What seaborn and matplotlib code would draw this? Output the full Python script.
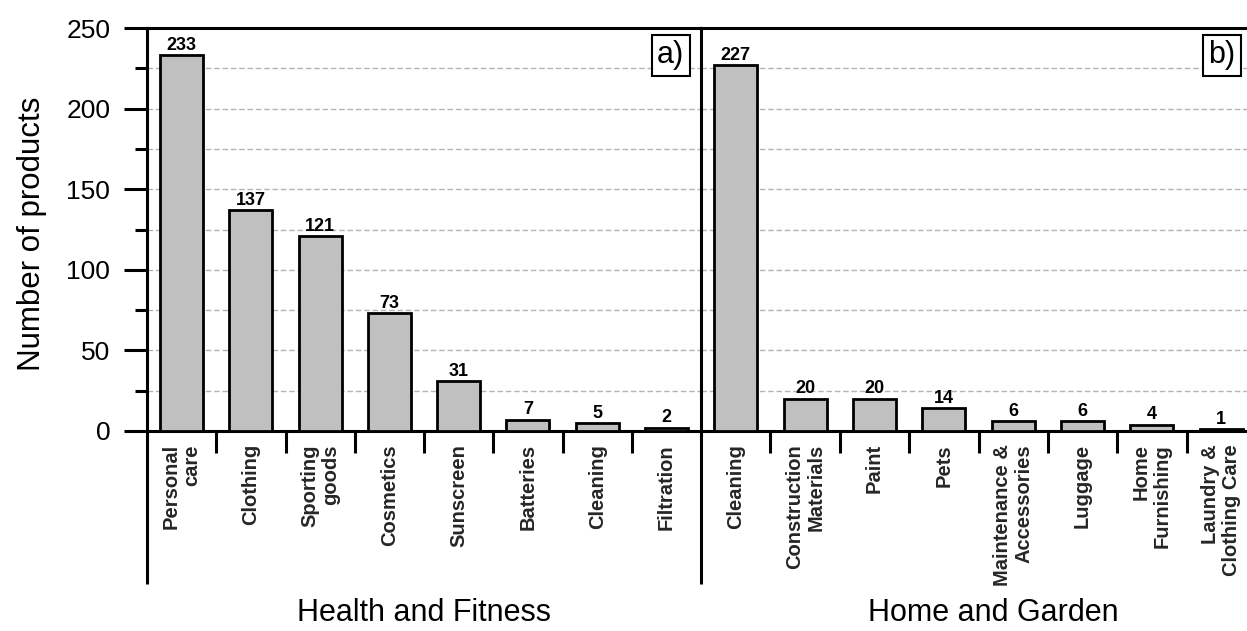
import numpy as np
import pandas as pd
import matplotlib
matplotlib.use("Agg")
import matplotlib.pyplot as plt
from matplotlib.ticker import MultipleLocator, FixedLocator
from matplotlib.lines import Line2D
import seaborn as sns

# Product counts by category
health_categories = ["Personal\ncare", "Clothing", "Sporting\ngoods", "Cosmetics",
                     "Sunscreen", "Batteries", "Cleaning", "Filtration"]
health_counts = [233, 137, 121, 73, 31, 7, 5, 2]

home_categories = ["Cleaning", "Construction\nMaterials", "Paint", "Pets",
                   "Maintenance &\nAccessories", "Luggage", "Home\nFurnishing",
                   "Laundry &\nClothing Care"]
home_counts = [227, 20, 20, 14, 6, 6, 4, 1]

group_titles = ["Health and Fitness", "Home and Garden"]
panel_tags = ["a)", "b)"]

sns.set_style("white")
plt.rcParams["font.family"] = ["Liberation Sans", "DejaVu Sans"]
plt.rcParams["text.color"] = "black"

W, H = 1247, 631
fig = plt.figure(figsize=(W / 100, H / 100), dpi=100)

def px_axes(x0, x1, y0, y1):
    return [x0 / W, 1 - y1 / H, (x1 - x0) / W, (y1 - y0) / H]

ax_l = fig.add_axes(px_axes(147, 701, 28, 431))
ax_r = fig.add_axes(px_axes(701, 1256, 28, 431), sharey=ax_l)

LW = 2.2
panels = [
    (ax_l, health_categories, health_counts, group_titles[0], panel_tags[0], 0.5, 0.970),
    (ax_r, home_categories, home_counts, group_titles[1], panel_tags[1], 0.526, 0.963),
]

for i, (ax, cats, vals, title, tag, tx, tagx) in enumerate(panels):
    df = pd.DataFrame({"category": cats, "count": vals})
    sns.barplot(data=df, x="category", y="count", ax=ax, color="#c0c0c0",
                saturation=1, edgecolor="black", linewidth=2.0, width=0.62, zorder=3)
    ax.bar_label(ax.containers[0], fmt="%d", padding=1, fontsize=13,
                 fontweight="bold")
    ax.set_xlim(-0.5, len(cats) - 0.5)
    ax.set_ylim(0, 250)
    ax.set_xlabel("")
    ax.set_ylabel("")
    ax.set_axisbelow(True)

    # category labels at bar centres, separator ticks at the boundaries
    ax.set_xticks(range(len(cats)))
    ax.set_xticklabels(cats, rotation=90, fontsize=14.5, fontweight="bold",
                       multialignment="right", linespacing=1.15)
    ax.xaxis.set_minor_locator(FixedLocator(np.arange(0.5, len(cats) - 0.5, 1)))
    ax.tick_params(axis="x", which="major", bottom=True, length=0, pad=9.5)
    ax.tick_params(axis="x", which="minor", bottom=True, length=16, width=LW,
                   direction="out", color="black")

    ax.yaxis.set_major_locator(MultipleLocator(50))
    ax.yaxis.set_minor_locator(MultipleLocator(25))
    ax.grid(axis="y", which="both", linestyle=(0, (4, 2)), color="#b4b4b4", linewidth=1)
    ax.grid(axis="x", visible=False)

    for side in ["left", "right", "top", "bottom"]:
        ax.spines[side].set_linewidth(LW)
        ax.spines[side].set_color("black")
    ax.spines["right"].set_visible(False)

    # vertical rule continuing below the axis down past the labels
    ax.add_line(Line2D([0, 0], [0, -0.3797], transform=ax.transAxes, color="black",
                       linewidth=LW, clip_on=False, solid_capstyle="butt"))

    ax.text(tx, -0.452, title, transform=ax.transAxes, ha="center", va="center",
            fontsize=22, clip_on=False)
    ax.text(tagx, 0.969, tag, transform=ax.transAxes, ha="right", va="top",
            fontsize=22, zorder=5,
            bbox=dict(boxstyle="square,pad=0.18", facecolor="white",
                      edgecolor="black", linewidth=1.5))

ax_l.tick_params(axis="y", which="major", left=True, length=16.5, width=LW,
                 direction="out", labelsize=19, pad=10, colors="black")
ax_l.tick_params(axis="y", which="minor", left=True, length=8.6, width=LW,
                 direction="out", color="black")
ax_r.tick_params(axis="y", which="both", left=False, labelleft=False)

fig.text(32 / W, 1 - 234 / H, "Number of products", rotation=90, ha="center",
         va="center", fontsize=22.5)

fig.savefig("out.png", dpi=100)
